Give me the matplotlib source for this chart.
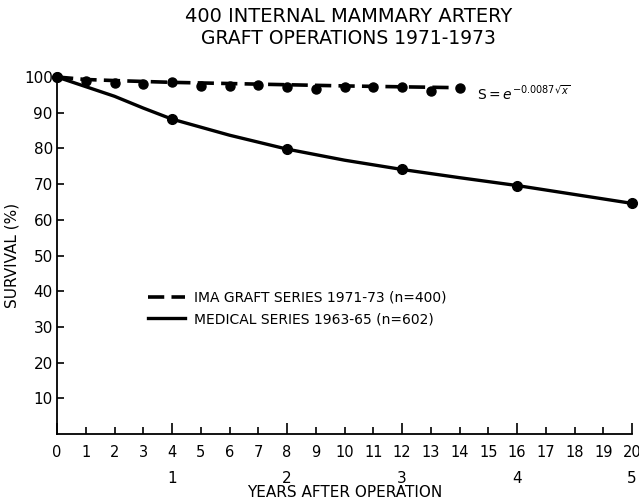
import numpy as np
import matplotlib
matplotlib.use('Agg')
import matplotlib.pyplot as plt
from matplotlib.ticker import MultipleLocator, FuncFormatter

# quarters after operation (3-month intervals)
ima_q = list(range(15))
ima_surv = [100, 99.0, 98.4, 97.9, 98.5, 97.5, 97.6, 97.7, 97.2, 96.5, 97.2, 97.1, 97.1, 96.2, 97.0]
ima_fit_q = [0, 1, 2, 4, 7, 10, 14]
ima_fit = [100, 99.3, 99.0, 98.5, 98.0, 97.5, 97.0]

med_q = [0, 4, 8, 12, 16, 20]
med_surv = [100, 88.2, 79.8, 74.1, 69.6, 64.6]
med_line_q = [0, 1, 2, 3, 4, 6, 8, 10, 12, 14, 16, 18, 20]
med_line = [100, 97.3, 94.6, 91.3, 88.2, 83.7, 79.8, 76.7, 74.1, 71.8, 69.6, 67.1, 64.6]

year_ticks = [1, 2, 3, 4, 5]
y_ticks = [10, 20, 30, 40, 50, 60, 70, 80, 90, 100]

plt.rcParams['font.family'] = ['DejaVu Sans']

fig = plt.figure(figsize=(6.39, 5.04), dpi=100)
ax = fig.add_axes([57/639, 1 - 434/504, (632 - 57)/639, (434 - 77)/504])

ax.plot(ima_fit_q, ima_fit, color='k', lw=2.6, ls=(0, (4.5, 2)), clip_on=False,
        label='IMA GRAFT SERIES 1971-73 (n=400)')
ax.plot(ima_q, ima_surv, 'o', color='k', ms=6.5, clip_on=False)
ax.plot(med_line_q, med_line, color='k', lw=2.4, clip_on=False,
        label='MEDICAL SERIES 1963-65 (n=602)')
ax.plot(med_q, med_surv, 'o', color='k', ms=7, clip_on=False)

ax.set_xlim(0, 20)
ax.set_ylim(0, 100)
for spi in ['top', 'right']:
    ax.spines[spi].set_visible(False)
for spi in ['left', 'bottom']:
    ax.spines[spi].set_linewidth(1.3)

ax.xaxis.set_major_locator(MultipleLocator(4))
ax.xaxis.set_minor_locator(MultipleLocator(1))
ax.xaxis.set_major_formatter(FuncFormatter(lambda v, p: '%d' % v))
ax.xaxis.set_minor_formatter(FuncFormatter(lambda v, p: '%d' % v))
ax.tick_params(axis='x', which='major', direction='in', length=8, width=1.2, labelsize=10.5, pad=8)
ax.tick_params(axis='x', which='minor', direction='in', length=5, width=1.2, labelsize=10.5, pad=8)
ax.set_yticks(y_ticks)
ax.tick_params(axis='y', direction='in', length=5, width=1.2, labelsize=11, pad=3)

sec = ax.secondary_xaxis(-0.105, functions=(lambda q: q / 4, lambda y: y * 4))
sec.set_xticks(year_ticks)
sec.tick_params(length=0, labelsize=11, pad=0)
sec.spines['bottom'].set_visible(False)

ax.set_xlabel('YEARS AFTER OPERATION', fontsize=11)
ax.xaxis.set_label_coords(0.5, -0.143)
ax.set_ylabel('SURVIVAL (%)', fontsize=11)
ax.yaxis.set_label_coords(-0.066, 0.5)

ax.text(14.6, 95.2, r'S$=e^{-0.0087\sqrt{x}}$', fontsize=10, ha='left', va='center')

fig.text(0.545, 1 - 17/504, '400 INTERNAL MAMMARY ARTERY', ha='center', va='center', fontsize=14)
fig.text(0.545, 1 - 38/504, 'GRAFT OPERATIONS 1971-1973', ha='center', va='center', fontsize=13.5)

ax.legend(loc='center left', bbox_to_anchor=(0.158, 0.352), frameon=False, fontsize=10,
          handlelength=2.7, handletextpad=0.6, labelspacing=0.55, borderaxespad=0,
          borderpad=0)

fig.savefig('out.png', dpi=100)
